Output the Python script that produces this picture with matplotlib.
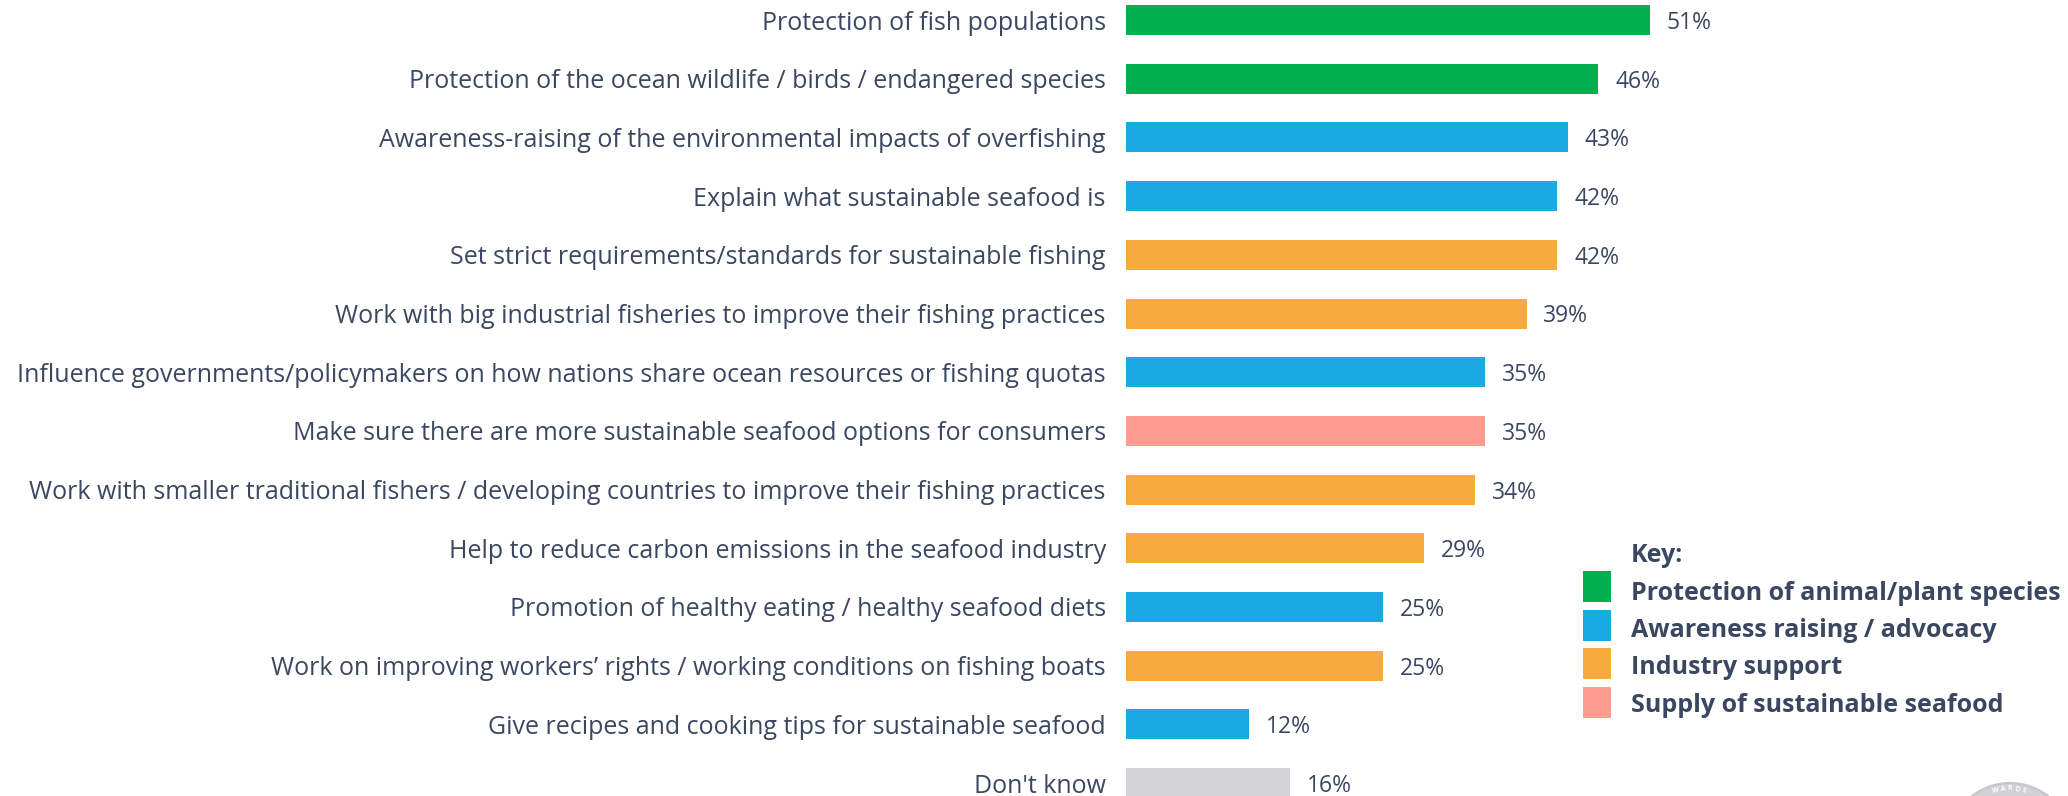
import numpy as np
import matplotlib
matplotlib.use("Agg")
import matplotlib.pyplot as plt
from matplotlib.patches import Rectangle, Ellipse

# ---- data -------------------------------------------------------------
categories = [
    "Protection of fish populations",
    "Protection of the ocean wildlife / birds / endangered species",
    "Awareness-raising of the environmental impacts of overfishing",
    "Explain what sustainable seafood is",
    "Set strict requirements/standards for sustainable fishing",
    "Work with big industrial fisheries to improve their fishing practices",
    "Influence governments/policymakers on how nations share ocean resources or fishing quotas",
    "Make sure there are more sustainable seafood options for consumers",
    "Work with smaller traditional fishers / developing countries to improve their fishing practices",
    "Help to reduce carbon emissions in the seafood industry",
    "Promotion of healthy eating / healthy seafood diets",
    "Work on improving workers\u2019 rights / working conditions on fishing boats",
    "Give recipes and cooking tips for sustainable seafood",
    "Don't know",
]
values = [51, 46, 43, 42, 42, 39, 35, 35, 34, 29, 25, 25, 12, 16]
groups = ["protect", "protect", "aware", "aware", "industry", "industry", "aware",
          "supply", "industry", "industry", "aware", "industry", "aware", "dk"]

key_labels = {
    "protect": "Protection of animal/plant species",
    "aware": "Awareness raising / advocacy",
    "industry": "Industry support",
    "supply": "Supply of sustainable seafood",
}
key_order = ["protect", "aware", "industry", "supply"]

# ---- styling ----------------------------------------------------------
palette = {
    "protect": "#00b050",
    "aware": "#1ba9e1",
    "industry": "#f6ab3f",
    "supply": "#fd9d8f",
    "dk": "#d4d4d8",
}
text_color = "#3b4761"
font = ["Open Sans", "DejaVu Sans"]
plt.rcParams["font.family"] = font

W, H = 2068, 796
fig = plt.figure(figsize=(W / 100, H / 100), dpi=100)

# axes placed in pixel terms: bars start at x=1126, 10.27 px per percentage point
x0_px, px_per_pt, xmax = 1126, 10.27, 60
ax = fig.add_axes([x0_px / W, 0, px_per_pt * xmax / W, 1])
ax.set_xlim(0, xmax)

# row spacing ~58.7 px, first row centred 20 px below the top edge
row_px, first_px = 58.7, 20
ax.set_ylim((H - first_px) / row_px, -first_px / row_px)

ypos = list(range(len(categories)))
ax.barh(ypos, values, height=30 / row_px,
        color=[palette[g] for g in groups], edgecolor="none")

ax.set_yticks(ypos)
ax.set_yticklabels(categories, fontsize=18, color=text_color)
ax.tick_params(axis="y", length=0, pad=14.5)
ax.set_xticks([])
for s in ax.spines.values():
    s.set_visible(False)

for y, v in zip(ypos, values):
    ax.annotate(f"{v}%", xy=(v, y), xytext=(12, 0), textcoords="offset points",
                va="center_baseline", ha="left", fontsize=16.5, color=text_color)


def fx(px):
    return px / W


def fy(py):
    return 1 - py / H


# ---- key ----------------------------------------------------------------
fig.text(fx(1631), fy(562), "Key:", fontsize=18, fontweight="bold",
         color=text_color, va="baseline", ha="left")
square_centres = [586.5, 625.5, 663.5, 702.5]
text_baselines = [600, 637, 674, 712]
for g, cy, by in zip(key_order, square_centres, text_baselines):
    fig.patches.append(Rectangle((fx(1583), fy(cy + 15.5)), 28 / W, 31 / H,
                                 transform=fig.transFigure, facecolor=palette[g],
                                 edgecolor="none"))
    fig.text(fx(1631), fy(by), key_labels[g], fontsize=18, fontweight="bold",
             color=text_color, va="baseline", ha="left")

# ---- faint seal peeking in at the bottom-right corner -------------------
seal_cx, seal_cy, seal_r = 2010, 845, 62
fig.patches.append(Ellipse((fx(seal_cx), fy(seal_cy)), 2 * seal_r / W, 2 * seal_r / H,
                           transform=fig.transFigure, facecolor="#d2d2d5",
                           edgecolor="#c6c6ca", linewidth=1.5))
seal_word = "STEWARDSHIP"
arc_r, step = 56, 7.2
mid = (len(seal_word) - 1) / 2
for i, ch in enumerate(seal_word):
    ang = np.deg2rad(90 - (i - mid) * step)
    px = seal_cx + arc_r * np.cos(ang)
    py = seal_cy - arc_r * np.sin(ang)
    if py > 791:  # letters below this sit under the figure edge
        continue
    fig.text(fx(px), fy(py), ch, fontsize=5, color="white", fontweight="bold",
             ha="center", va="center", rotation=np.rad2deg(ang) - 90)

fig.savefig("out.png", dpi=100, facecolor="white")
